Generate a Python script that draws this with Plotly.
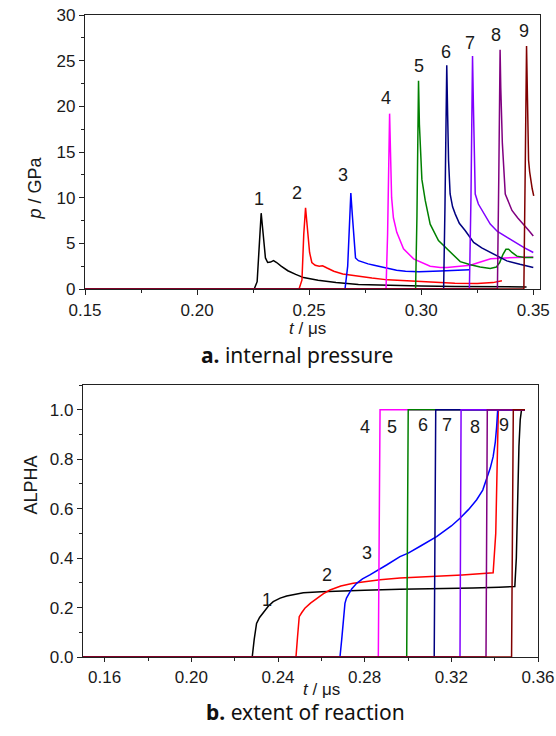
import plotly.graph_objects as go

# ---------------- Panel a: internal pressure (GPa) vs t (us) ----------------
s1_t = [0.15, 0.2255, 0.2268, 0.2278, 0.2286, 0.2295, 0.2305, 0.2315, 0.2328, 0.2341, 0.2355, 0.2375, 0.2405, 0.2440, 0.2475, 0.2540, 0.2620, 0.2720, 0.2850, 0.3000, 0.3150, 0.3300, 0.3470]
s1_p = [0, 0, 0.8, 5.5, 8.3, 6.0, 3.4, 2.9, 2.95, 3.1, 2.9, 2.5, 2.0, 1.6, 1.25, 0.95, 0.7, 0.5, 0.38, 0.32, 0.28, 0.25, 0.22]

s2_t = [0.15, 0.2455, 0.2468, 0.2476, 0.2484, 0.2492, 0.2502, 0.2512, 0.2527, 0.2545, 0.2560, 0.2580, 0.2610, 0.2650, 0.2700, 0.2780, 0.2850, 0.2950, 0.3050, 0.3150, 0.3250, 0.3320, 0.3360]
s2_p = [0, 0, 1.0, 6.0, 8.9, 6.8, 4.0, 2.9, 2.6, 2.5, 2.55, 2.3, 1.95, 1.65, 1.45, 1.2, 1.0, 0.85, 0.72, 0.62, 0.6, 0.7, 0.9]

s3_t = [0.15, 0.2660, 0.2672, 0.2680, 0.2686, 0.2693, 0.2700, 0.2707, 0.2720, 0.2740, 0.2763, 0.2790, 0.2817, 0.2850, 0.2890, 0.2930, 0.2990, 0.3085, 0.3150, 0.3204, 0.3215]
s3_p = [0, 0, 2.5, 7.5, 10.5, 8.0, 5.0, 3.4, 3.1, 2.9, 2.75, 2.6, 2.45, 2.2, 2.05, 1.95, 1.9, 1.98, 2.05, 2.1, 2.1]

s4_t = [0.15, 0.2843, 0.2850, 0.2855, 0.2859, 0.2863, 0.2868, 0.2876, 0.2891, 0.2921, 0.2966, 0.3040, 0.3085, 0.3115, 0.3160, 0.3219, 0.3250, 0.3278, 0.3310, 0.3353, 0.3410, 0.3500]
s4_p = [0, 0, 6, 15, 19.2, 15, 10, 7.8, 6.2, 4.4, 3.3, 2.5, 2.35, 2.35, 2.45, 2.6, 2.85, 3.08, 3.3, 3.38, 3.45, 3.5]

s5_t = [0.15, 0.2975, 0.2981, 0.2985, 0.2988, 0.2992, 0.2997, 0.3003, 0.3018, 0.3040, 0.3077, 0.3115, 0.3150, 0.3174, 0.3220, 0.3263, 0.3308, 0.3335, 0.3350, 0.3365, 0.3378, 0.3390, 0.3405, 0.3427, 0.3460, 0.3500]
s5_p = [0, 0, 8, 18, 22.8, 18, 14.5, 12.0, 9.7, 7.1, 5.3, 4.4, 3.6, 3.0, 2.65, 2.4, 2.25, 2.4, 2.9, 3.8, 4.35, 4.35, 4.0, 3.6, 3.45, 3.45]

s6_t = [0.15, 0.3100, 0.3106, 0.3110, 0.3114, 0.3118, 0.3122, 0.3129, 0.3140, 0.3152, 0.3170, 0.3196, 0.3234, 0.3270, 0.3308, 0.3345, 0.3382, 0.3440, 0.3500]
s6_p = [0, 0, 9, 20, 24.5, 19, 14.1, 10.4, 9.0, 8.2, 7.2, 6.4, 5.1, 4.5, 4.0, 3.5, 3.08, 2.7, 2.35]

s7_t = [0.15, 0.3215, 0.3222, 0.3226, 0.3229, 0.3233, 0.3237, 0.3241, 0.3255, 0.3271, 0.3290, 0.3308, 0.3340, 0.3382, 0.3420, 0.3457, 0.3500]
s7_p = [0, 0, 10, 21, 25.5, 20, 14, 10.4, 9.3, 8.6, 7.8, 7.1, 6.3, 5.65, 5.05, 4.55, 4.0]

s8_t = [0.15, 0.3340, 0.3346, 0.3349, 0.3352, 0.3355, 0.3362, 0.3375, 0.3390, 0.3405, 0.3430, 0.3457, 0.3480, 0.3500]
s8_p = [0, 0, 12, 22, 26.2, 22, 16, 10.4, 9.4, 8.6, 7.8, 7.1, 6.4, 5.8]

s9_t = [0.15, 0.3458, 0.3464, 0.3467, 0.3470, 0.3474, 0.3479, 0.3484, 0.3489, 0.3495, 0.3502]
s9_p = [0, 0, 13, 23, 26.6, 21, 14.1, 12.8, 11.9, 11.0, 10.2]

# ---------------- Panel b: extent of reaction (ALPHA) vs t (us) ----------------
b1_t = [0.15, 0.2281, 0.2290, 0.2301, 0.2315, 0.2332, 0.2355, 0.2378, 0.2410, 0.2440, 0.2480, 0.2517, 0.2600, 0.2670, 0.2800, 0.2963, 0.3150, 0.3300, 0.3420, 0.3493, 0.3500, 0.3506, 0.3512, 0.3518, 0.3524, 0.3540]
b1_a = [0, 0, 0.07, 0.136, 0.16, 0.18, 0.205, 0.224, 0.238, 0.247, 0.255, 0.26, 0.264, 0.267, 0.27, 0.274, 0.276, 0.279, 0.282, 0.285, 0.4, 0.65, 0.85, 0.96, 1.0, 1.0]

b2_t = [0.15, 0.2483, 0.2490, 0.2498, 0.2510, 0.2524, 0.2550, 0.2578, 0.2610, 0.2640, 0.2690, 0.2747, 0.2800, 0.2871, 0.2963, 0.3132, 0.3250, 0.3393, 0.3405, 0.3412, 0.3417, 0.3540]
b2_a = [0, 0, 0.08, 0.163, 0.18, 0.197, 0.218, 0.237, 0.256, 0.271, 0.287, 0.298, 0.305, 0.312, 0.319, 0.325, 0.332, 0.341, 0.5, 0.8, 1.0, 1.0]

b3_t = [0.15, 0.2686, 0.2694, 0.2701, 0.2709, 0.2716, 0.2724, 0.2740, 0.2763, 0.2790, 0.2824, 0.2860, 0.2901, 0.2963, 0.3001, 0.3060, 0.3132, 0.3200, 0.3240, 0.3280, 0.3317, 0.3345, 0.3363, 0.3380, 0.3393, 0.3403, 0.3409, 0.3414, 0.3540]
b3_a = [0, 0, 0.07, 0.15, 0.217, 0.238, 0.251, 0.275, 0.298, 0.316, 0.332, 0.35, 0.372, 0.406, 0.42, 0.45, 0.487, 0.53, 0.561, 0.597, 0.636, 0.675, 0.717, 0.765, 0.81, 0.87, 0.93, 1.0, 1.0]

b4_t = [0.15, 0.2863, 0.2871, 0.3540]
b4_a = [0, 0, 1.0, 1.0]
b5_t = [0.15, 0.2994, 0.3001, 0.3540]
b5_a = [0, 0, 1.0, 1.0]
b6_t = [0.15, 0.3121, 0.3128, 0.3540]
b6_a = [0, 0, 1.0, 1.0]
b7_t = [0.15, 0.3240, 0.3245, 0.3540]
b7_a = [0, 0, 1.0, 1.0]
b8_t = [0.15, 0.3360, 0.3366, 0.3540]
b8_a = [0, 0, 1.0, 1.0]
b9_t = [0.15, 0.3478, 0.3486, 0.3540]
b9_a = [0, 0, 1.0, 1.0]

series_names = ["1", "2", "3", "4", "5", "6", "7", "8", "9"]
colors = ["#000000", "#ff0000", "#0000ff", "#ff00ff", "#008000", "#000080", "#8000ff", "#800080", "#800000"]

# label positions (data coords)
lab_a_t = [0.2277, 0.2448, 0.2650, 0.2844, 0.2991, 0.3112, 0.3219, 0.3333, 0.3457]
lab_a_p = [9.8, 10.5, 12.5, 20.9, 24.4, 26.0, 26.9, 27.8, 28.2]
lab_b_t = [0.2347, 0.2625, 0.2809, 0.2801, 0.2924, 0.3067, 0.3178, 0.3309, 0.3443]
lab_b_a = [0.23, 0.332, 0.42, 0.932, 0.932, 0.94, 0.94, 0.932, 0.94]

top_series = [(s1_t, s1_p), (s2_t, s2_p), (s3_t, s3_p), (s4_t, s4_p), (s5_t, s5_p),
              (s6_t, s6_p), (s7_t, s7_p), (s8_t, s8_p), (s9_t, s9_p)]
bot_series = [(b1_t, b1_a), (b2_t, b2_a), (b3_t, b3_a), (b4_t, b4_a), (b5_t, b5_a),
              (b6_t, b6_a), (b7_t, b7_a), (b8_t, b8_a), (b9_t, b9_a)]

fig = go.Figure()
for (t, p), c, n in zip(top_series, colors, series_names):
    fig.add_trace(go.Scatter(x=t, y=p, mode="lines", line=dict(color=c, width=1.5),
                             name=n, xaxis="x", yaxis="y", showlegend=False))
for (t, a), c, n in zip(bot_series, colors, series_names):
    fig.add_trace(go.Scatter(x=t, y=a, mode="lines", line=dict(color=c, width=1.5),
                             name=n, xaxis="x2", yaxis="y2", showlegend=False))

W, H = 556, 736
tickfont = dict(family="Liberation Sans, Arial, sans-serif", size=17, color="#1a1a1a")
axis_common = dict(showline=True, mirror=True, linecolor="#222222", linewidth=1.3,
                   ticks="outside", ticklen=5, tickwidth=1.2, tickcolor="#222222",
                   showgrid=False, zeroline=False, tickfont=tickfont, layer="below traces",
                   automargin=False)

fig.update_layout(
    width=W, height=H, margin=dict(l=0, r=0, t=0, b=0, pad=0),
    paper_bgcolor="white", plot_bgcolor="white",
    xaxis=dict(domain=[85 / W, 540 / W], range=[0.15, 0.353], tick0=0.15, dtick=0.05,
               tickformat=".2f", anchor="y",
               minor=dict(dtick=0.025, tick0=0.15, ticks="outside", ticklen=3,
                          tickcolor="#222222", tickwidth=1), **axis_common),
    yaxis=dict(domain=[1 - 289 / H, 1 - 15 / H], range=[0, 30], tick0=0, dtick=5,
               anchor="x",
               minor=dict(dtick=2.5, tick0=0, ticks="outside", ticklen=3,
                          tickcolor="#222222", tickwidth=1), **axis_common),
    xaxis2=dict(domain=[83 / W, 538 / W], range=[0.15, 0.36], tick0=0.16, dtick=0.04,
                tickformat=".2f", anchor="y2",
                minor=dict(dtick=0.02, tick0=0.16, ticks="outside", ticklen=3,
                           tickcolor="#222222", tickwidth=1), **axis_common),
    yaxis2=dict(domain=[1 - 657 / H, 1 - 385 / H], range=[0, 1.1], tick0=0, dtick=0.2,
                tickformat=".1f", anchor="x2",
                minor=dict(dtick=0.1, tick0=0, ticks="outside", ticklen=3,
                           tickcolor="#222222", tickwidth=1), **axis_common),
)
fig.update_xaxes(selector=dict(anchor="y2"), ticklen=4)

lab_font = dict(family="Liberation Sans, Arial, sans-serif", size=18, color="#1a1a1a")
for n, t, p in zip(series_names, lab_a_t, lab_a_p):
    fig.add_annotation(x=t, y=p, xref="x", yref="y", text=n, showarrow=False, font=lab_font)
for n, t, a in zip(series_names, lab_b_t, lab_b_a):
    fig.add_annotation(x=t, y=a, xref="x2", yref="y2", text=n, showarrow=False, font=lab_font)

title_font = dict(family="Liberation Sans, Arial, sans-serif", size=17, color="#1a1a1a")
# axis titles
fig.add_annotation(x=22 / W, y=1 - 155 / H, xref="paper", yref="paper", text="<i>p</i> / GPa",
                   textangle=-90, showarrow=False, font=dict(title_font, size=18))
fig.add_annotation(x=307 / W, y=1 - 328 / H, xref="paper", yref="paper", text="<i>t</i> / μs",
                   showarrow=False, font=title_font)
fig.add_annotation(x=18 / W, y=1 - 517 / H, xref="paper", yref="paper", text="ALPHA",
                   textangle=-90, showarrow=False, font=dict(title_font, size=18))
fig.add_annotation(x=321 / W, y=1 - 701 / H, xref="paper", yref="paper", text="<i>t</i> / μs",
                   showarrow=False, font=title_font)

cap_font = dict(family="Noto Sans, sans-serif", size=21, color="#111111")
fig.add_annotation(x=297 / W, y=1 - 355 / H, xref="paper", yref="paper",
                   text="<b>a.</b> internal pressure", showarrow=False, font=cap_font)
fig.add_annotation(x=305 / W, y=1 - 728 / H, xref="paper", yref="paper",
                   text="<b>b.</b> extent of reaction", showarrow=False, font=cap_font)

fig.write_html("out.html", config={"displayModeBar": False},
               post_script="document.body.style.margin='0';document.body.style.overflow='hidden';")
